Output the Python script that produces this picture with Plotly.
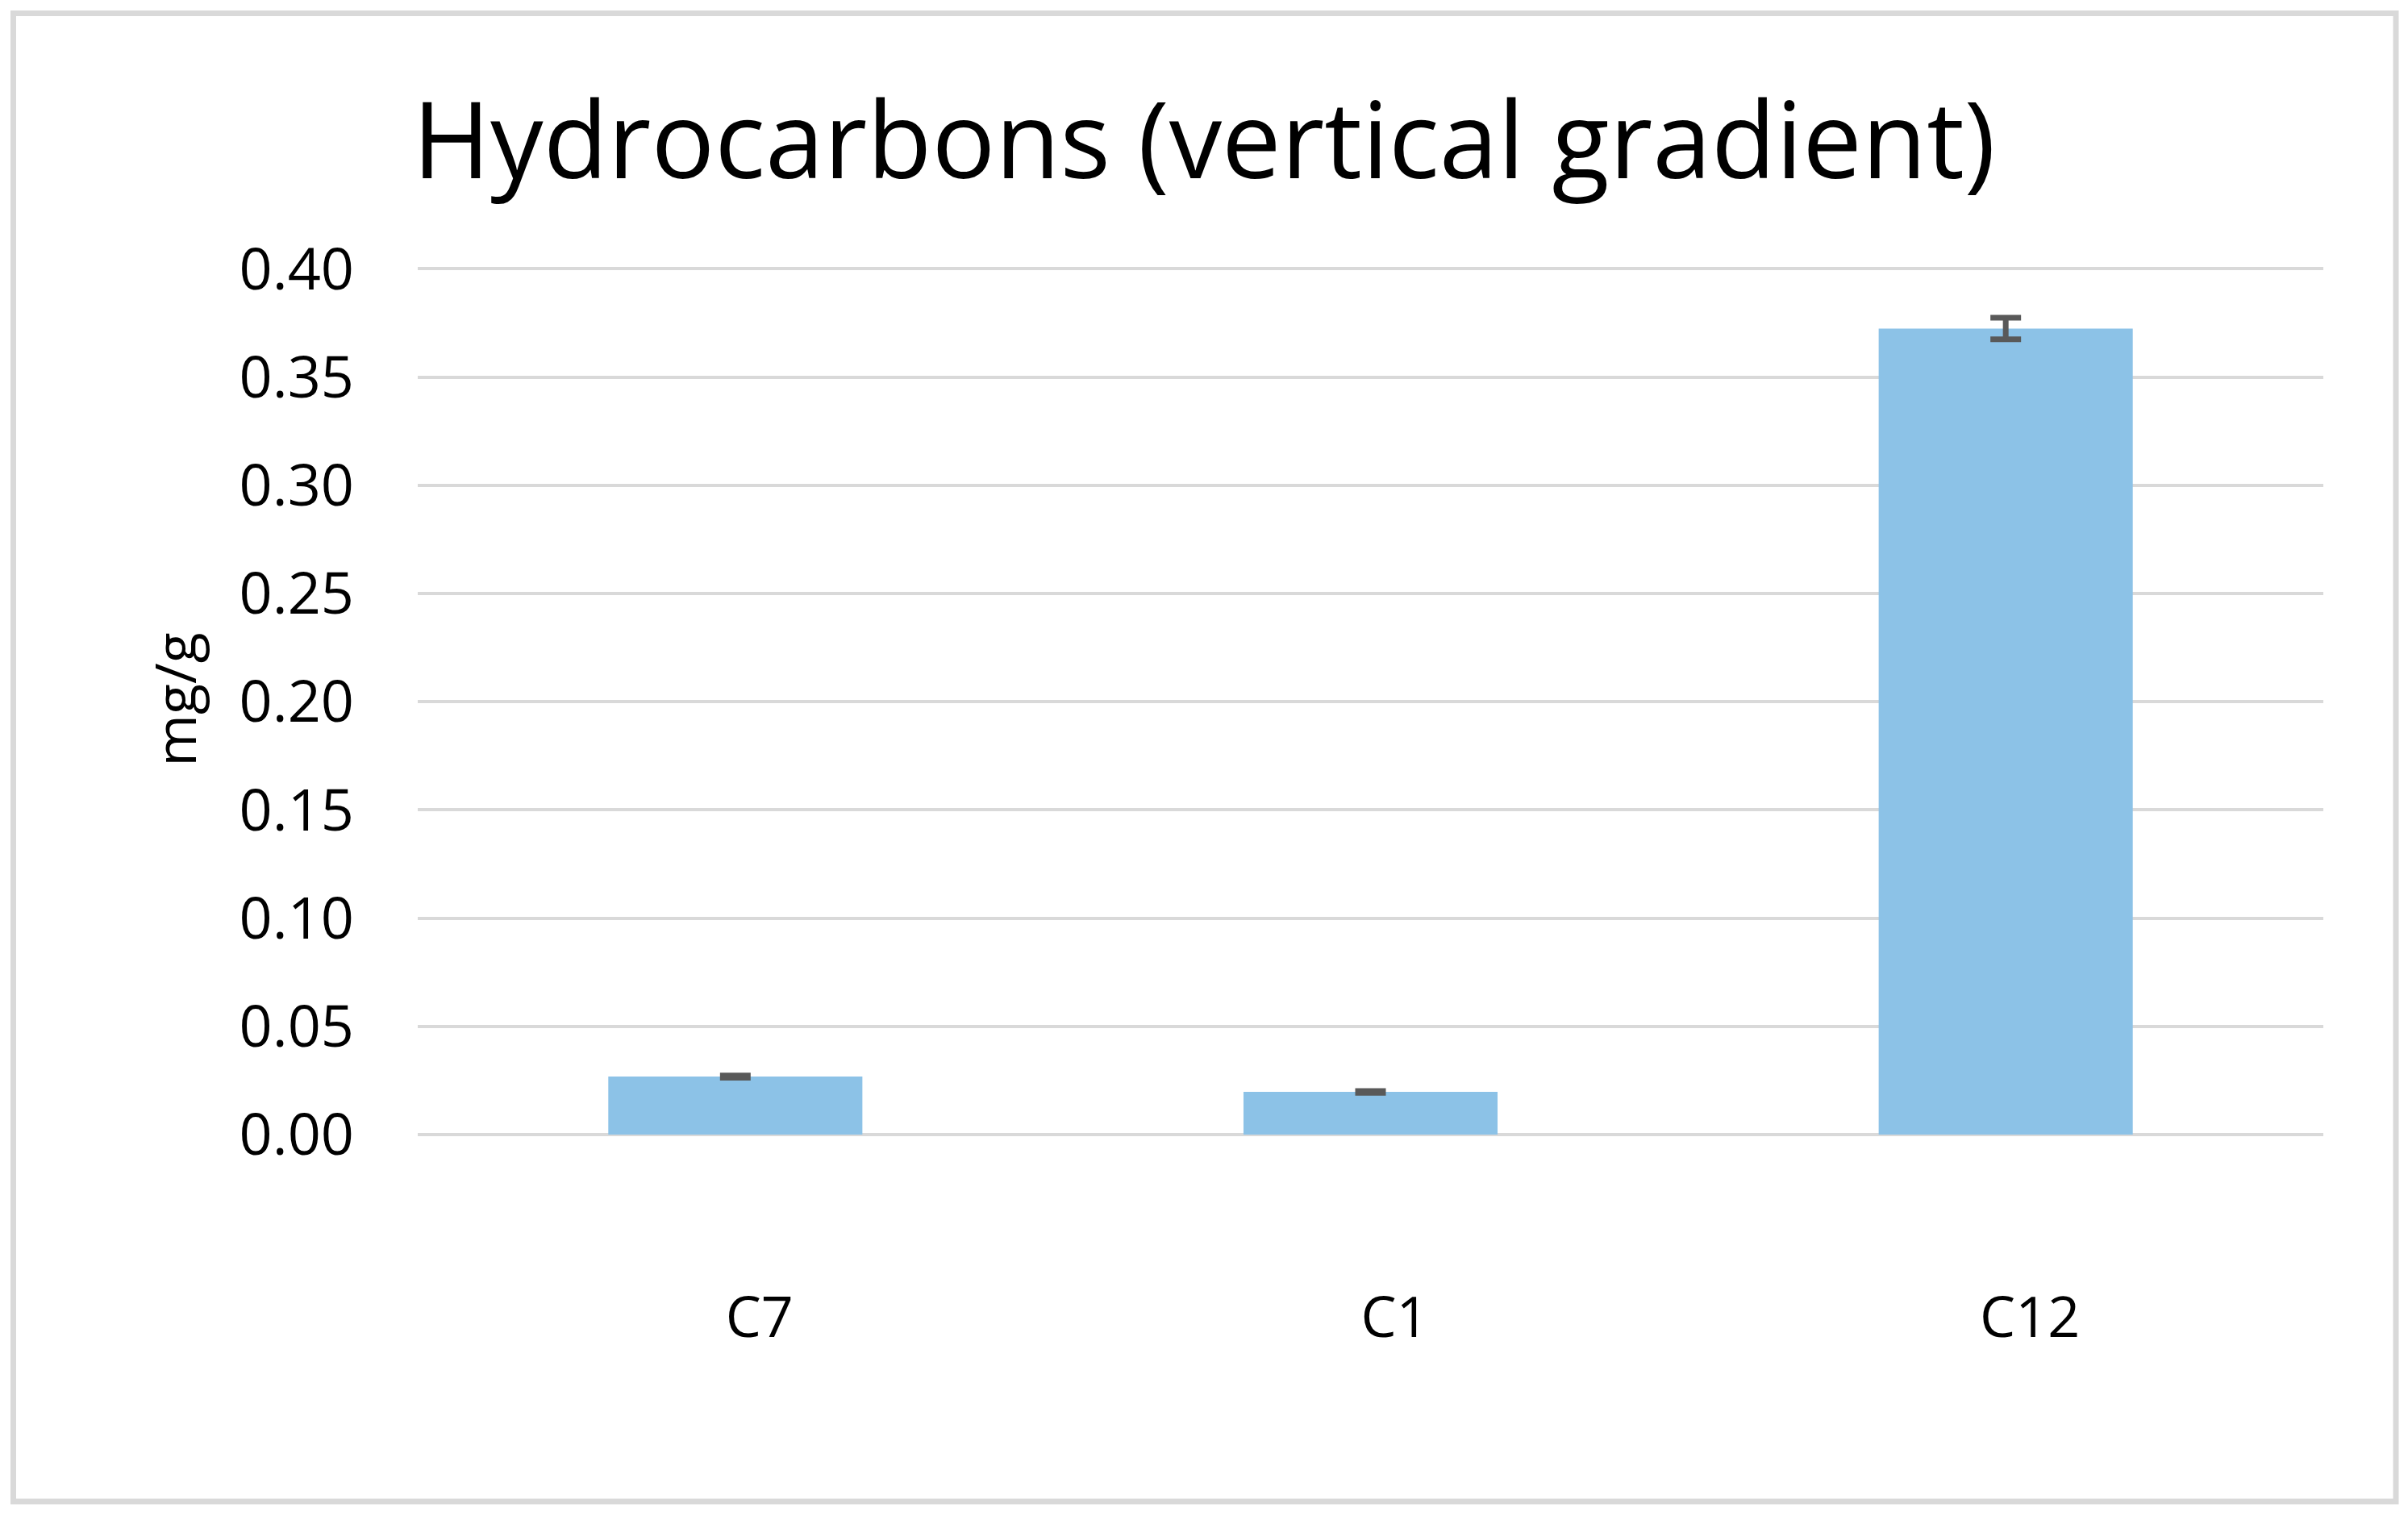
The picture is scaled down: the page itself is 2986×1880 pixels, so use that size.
import plotly.graph_objects as go

categories = ["C7", "C1", "C12"]
values = [0.0268, 0.0197, 0.3724]
errors = [0.0005, 0.0004, 0.005]
y_ticks = [0.0, 0.05, 0.10, 0.15, 0.20, 0.25, 0.30, 0.35, 0.40]
y_tick_labels = ["0.00", "0.05", "0.10", "0.15", "0.20", "0.25", "0.30", "0.35", "0.40"]
y_max = 0.402

W, H = 2986, 1880
L, R, T, B = 518, 105, 328, 473
pw, ph = W - L - R, H - T - B

FONT = "Open Sans"

fig = go.Figure(go.Bar(
    x=categories, y=values,
    marker=dict(color="#8CC2E7", line=dict(width=0)),
    error_y=dict(type="data", array=errors, visible=True,
                 color="#595959", thickness=7, width=19),
    width=0.4,
))

def px_x(p):
    return (p - L) / pw

def px_y(p):
    return 1 - (p - T) / ph

fig.add_shape(type="rect", xref="paper", yref="paper",
              x0=px_x(16.5), x1=px_x(2971), y0=px_y(16.5), y1=px_y(1862),
              line=dict(color="#D9D9D9", width=7), fillcolor="rgba(0,0,0,0)",
              layer="below")

fig.update_layout(
    width=W, height=H,
    margin=dict(l=L, r=R, t=T, b=B, pad=0),
    paper_bgcolor="white", plot_bgcolor="white",
    showlegend=False,
    title=dict(text="Hydrocarbons (vertical gradient)", x=0.5, xref="container",
               xanchor="center", y=1 - 175 / H, yanchor="middle",
               font=dict(family=FONT, size=131, color="black")),
    font=dict(family=FONT, color="black"),
    xaxis=dict(showgrid=False, showline=False, zeroline=False, ticks="",
               tickfont=dict(family=FONT, size=70, color="black"),
               ticklabelstandoff=180, ticklabelshift=30),
    yaxis=dict(range=[0, y_max], tickvals=y_ticks, ticktext=y_tick_labels,
               showgrid=True, gridcolor="#D9D9D9", gridwidth=4,
               zeroline=True, zerolinecolor="#D9D9D9", zerolinewidth=4,
               showline=False, ticks="",
               tickfont=dict(family=FONT, size=72, color="black"),
               ticklabelstandoff=78,
               title=dict(text="mg/g", font=dict(family=FONT, size=70, color="black"),
                          standoff=30)),
)

fig.write_html("out.html", config={"displayModeBar": False},
               post_script="document.body.style.margin='0px';document.body.style.padding='0px';")
